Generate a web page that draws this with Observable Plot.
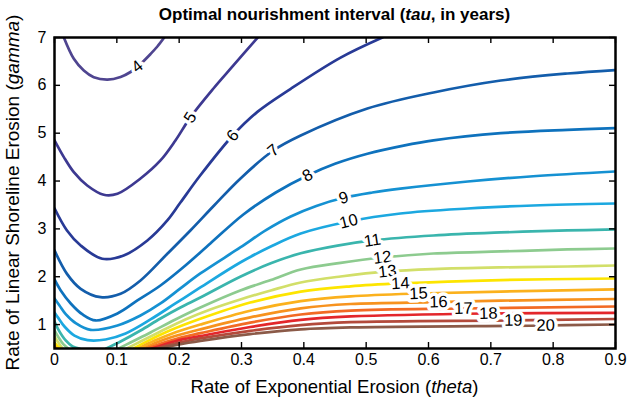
<!DOCTYPE html>
<html><head><meta charset="utf-8">
<script src="https://cdn.jsdelivr.net/npm/d3@7"></script>
<script src="https://cdn.jsdelivr.net/npm/@observablehq/plot@0.6"></script>
<style>
html,body{margin:0;padding:0;background:#fff;}
svg text{font-family:"Liberation Sans",Arial,Helvetica,sans-serif;}
</style></head>
<body>
<div id="chart"></div>
<script>
// ---- contour levels and colours ----
const levels = [4,5,6,7,8,9,10,11,12,13,14,15,16,17,18,19,20];
const levelColors = ["#4f4590","#3d3991","#283a96","#135dab","#0e72bd","#1591d2","#1ca8e0","#3ab5ad","#8dcb8f","#d2df69","#fde500","#fbb11d","#f7921e","#f26a24","#e3262b","#b34a3b","#8b5a48"];
const xTicks = [0,0.1,0.2,0.3,0.4,0.5,0.6,0.7,0.8,0.9];
const yTicks = [1,2,3,4,5,6,7];
// theta at which each contour carries its inline label
const labelTheta = [0.133,0.218,0.286,0.351,0.406,0.464,0.472,0.510,0.526,0.534,0.555,0.584,0.616,0.656,0.696,0.736,0.788];

// ---- contour lines as [theta, gamma] ----
const tau4 = [[0.015,7.0],[0.031,6.555],[0.047,6.31],[0.063,6.17],[0.085,6.12],[0.106,6.175],[0.122,6.279],[0.138,6.446],[0.154,6.655],[0.165,6.812],[0.176,7.0]];
const tau5 = [[0,4.85],[0.015,4.50],[0.031,4.185],[0.0525,3.907],[0.079,3.713],[0.101,3.734],[0.138,4.053],[0.170,4.43],[0.194,4.847],[0.218,5.33],[0.255,5.934],[0.287,6.415],[0.326,7.0]];
const tau6 = [[0,3.43],[0.020,2.967],[0.042,2.653],[0.0765,2.375],[0.111,2.444],[0.149,2.757],[0.181,3.176],[0.202,3.55],[0.234,4.12],[0.286,4.952],[0.325,5.44],[0.379,5.928],[0.459,6.58],[0.526,7.0]];
const tau7 = [[0,2.55],[0.020,2.06],[0.042,1.748],[0.074,1.573],[0.106,1.644],[0.138,1.922],[0.181,2.48],[0.218,2.967],[0.256,3.489],[0.298,4.05],[0.351,4.638],[0.395,4.952],[0.502,5.516],[0.608,5.851],[0.716,6.101],[0.823,6.248],[0.9,6.32]];
const tau8 = [[0,1.943],[0.010,1.713],[0.026,1.441],[0.045,1.211],[0.066,1.086],[0.101,1.232],[0.133,1.504],[0.170,1.817],[0.210,2.235],[0.250,2.695],[0.303,3.301],[0.355,3.761],[0.406,4.116],[0.450,4.36],[0.502,4.57],[0.560,4.74],[0.608,4.85],[0.716,5.0],[0.823,5.07],[0.9,5.105]];
const tau9 = [[0,1.545],[0.008,1.40],[0.018,1.22],[0.034,1.03],[0.058,0.89],[0.101,0.981],[0.138,1.19],[0.170,1.441],[0.202,1.755],[0.234,2.068],[0.298,2.611],[0.340,2.98],[0.379,3.26],[0.420,3.48],[0.464,3.65],[0.510,3.76],[0.555,3.84],[0.663,3.99],[0.768,4.10],[0.9,4.2]];
const tau10 = [[0,1.253],[0.006,1.14],[0.016,0.96],[0.032,0.77],[0.053,0.675],[0.082,0.689],[0.114,0.814],[0.154,1.107],[0.194,1.441],[0.234,1.776],[0.298,2.298],[0.347,2.632],[0.395,2.904],[0.472,3.155],[0.555,3.322],[0.663,3.426],[0.768,3.489],[0.9,3.531]];
const tau11a = [[0,1.065],[0.006,0.90],[0.018,0.668],[0.029,0.542],[0.040,0.5]];
const tau11b = [[0.083,0.5],[0.106,0.647],[0.138,0.877],[0.170,1.127],[0.202,1.357],[0.234,1.566],[0.298,2.0],[0.347,2.28],[0.395,2.49],[0.454,2.65],[0.510,2.758],[0.608,2.862],[0.716,2.925],[0.823,2.967],[0.9,2.988]];
const tau12a = [[0,0.877],[0.006,0.74],[0.014,0.59],[0.022,0.5]];
const tau12b = [[0.103,0.5],[0.122,0.626],[0.154,0.835],[0.194,1.107],[0.234,1.357],[0.298,1.713],[0.347,1.93],[0.395,2.15],[0.459,2.29],[0.526,2.402],[0.608,2.486],[0.716,2.528],[0.823,2.570],[0.9,2.590]];
const tau13a = [[0,0.751],[0.006,0.626],[0.013,0.5]];
const tau13b = [[0.116,0.5],[0.138,0.647],[0.170,0.856],[0.210,1.107],[0.250,1.316],[0.298,1.525],[0.347,1.713],[0.395,1.880],[0.459,2.005],[0.534,2.110],[0.608,2.16],[0.716,2.195],[0.823,2.214],[0.9,2.235]];
const tau14a = [[0,0.626],[0.005,0.55],[0.010,0.5]];
const tau14b = [[0.127,0.5],[0.150,0.66],[0.186,0.88],[0.234,1.12],[0.314,1.46],[0.395,1.69],[0.475,1.80],[0.555,1.86],[0.716,1.93],[0.9,1.963]];
const tau15a = [[0,0.563],[0.004,0.5]];
const tau15b = [[0.135,0.5],[0.160,0.66],[0.186,0.80],[0.234,1.0],[0.314,1.29],[0.395,1.49],[0.475,1.59],[0.584,1.65],[0.716,1.69],[0.9,1.734]];
const tau16a = [[0,0.52],[0.002,0.5]];
const tau16b = [[0.143,0.5],[0.165,0.63],[0.186,0.73],[0.234,0.90],[0.314,1.15],[0.395,1.34],[0.475,1.43],[0.616,1.47],[0.716,1.50],[0.9,1.535]];
const tau17 = [[0.149,0.5],[0.170,0.6],[0.200,0.72],[0.234,0.82],[0.314,1.04],[0.395,1.21],[0.475,1.29],[0.656,1.336],[0.9,1.378]];
const tau18 = [[0.156,0.5],[0.175,0.58],[0.205,0.69],[0.234,0.76],[0.314,0.95],[0.395,1.10],[0.475,1.17],[0.696,1.232],[0.9,1.243]];
const tau19 = [[0.162,0.5],[0.180,0.56],[0.210,0.65],[0.234,0.71],[0.314,0.87],[0.395,0.99],[0.475,1.05],[0.736,1.086],[0.9,1.117]];
const tau20 = [[0.168,0.5],[0.186,0.55],[0.215,0.62],[0.234,0.66],[0.314,0.80],[0.395,0.90],[0.475,0.94],[0.788,0.981],[0.9,1.002]];

// branches: [level, key, points, carries label]
const branches = [
  [4,"4",tau4,true],[5,"5",tau5,true],[6,"6",tau6,true],[7,"7",tau7,true],[8,"8",tau8,true],
  [9,"9",tau9,true],[10,"10",tau10,true],
  [11,"11a",tau11a,false],[11,"11b",tau11b,true],
  [12,"12a",tau12a,false],[12,"12b",tau12b,true],
  [13,"13a",tau13a,false],[13,"13b",tau13b,true],
  [14,"14a",tau14a,false],[14,"14b",tau14b,true],
  [15,"15a",tau15a,false],[15,"15b",tau15b,true],
  [16,"16a",tau16a,false],[16,"16b",tau16b,true],
  [17,"17",tau17,true],[18,"18",tau18,true],[19,"19",tau19,true],[20,"20",tau20,true]
];

const W = 629, H = 402, mL = 54, mR = 14, mT = 37, mB = 54;
const frameW = W - mL - mR, frameH = H - mT - mB;
const sx = d3.scaleLinear([0, 0.9], [mL, W - mR]);
const sy = d3.scaleLinear([0.5, 7], [H - mB, mT]);

const rows = [];
for (const [tau, key, pts] of branches) for (const [t, g] of pts) rows.push({tau, key, theta: t, gamma: g});

const labels = [];
for (const [tau, key, pts, lab] of branches) {
  if (!lab) continue;
  const t = labelTheta[levels.indexOf(tau)];
  for (let i = 0; i < pts.length - 1; i++) {
    const [t1, g1] = pts[i], [t2, g2] = pts[i + 1];
    if (t >= t1 && t <= t2) {
      const g = g1 + (g2 - g1) * (t - t1) / (t2 - t1);
      const ang = Math.atan2(sy(g2) - sy(g1), sx(t2) - sx(t1)) * 180 / Math.PI;
      labels.push({tau, theta: t, gamma: g, angle: ang});
      break;
    }
  }
}

const chart = Plot.plot({
  width: W, height: H,
  marginLeft: mL, marginRight: mR, marginTop: mT, marginBottom: mB,
  x: {domain: [0, 0.9]},
  y: {domain: [0.5, 7]},
  color: {type: "ordinal", domain: levels, range: levelColors},
  style: {fontFamily: "'Liberation Sans', Arial, sans-serif", fontSize: "16px", background: "white", color: "black"},
  marks: [
    Plot.line(rows, {x: "theta", y: "gamma", z: "key", stroke: "tau", strokeWidth: 2.7, curve: "catmull-rom", clip: true}),
    Plot.text(labels, {x: "theta", y: "gamma", text: d => String(d.tau), rotate: "angle", fontSize: 16.5, fill: "black", stroke: "white", strokeWidth: 7}),
    Plot.tickX(xTicks, {x: d => d, insetTop: frameH - 6, stroke: "black", strokeWidth: 1.4}),
    Plot.tickX(xTicks, {x: d => d, insetBottom: frameH - 6, stroke: "black", strokeWidth: 1.4}),
    Plot.tickY(yTicks, {y: d => d, insetRight: frameW - 6, stroke: "black", strokeWidth: 1.4}),
    Plot.tickY(yTicks, {y: d => d, insetLeft: frameW - 6, stroke: "black", strokeWidth: 1.4}),
    Plot.axisX(xTicks, {anchor: "bottom", tickSize: 0, tickPadding: 5, fontSize: 16, label: null, tickFormat: d => String(d)}),
    Plot.axisY(yTicks, {anchor: "left", tickSize: 0, tickPadding: 8, fontSize: 16, label: null, tickFormat: d => String(d)}),
    Plot.frame({stroke: "black", strokeWidth: 2.5})
  ]
});
document.getElementById("chart").appendChild(chart);

const svg = d3.select(chart);
function richText(sel, parts) {
  for (const [s, it] of parts) sel.append("tspan").attr("font-style", it ? "italic" : "normal").text(s);
  return sel;
}
richText(svg.append("text").attr("x", (mL + W - mR) / 2).attr("y", 20).attr("text-anchor", "middle")
  .attr("font-weight", "bold").attr("font-size", 17).attr("fill", "black"),
  [["Optimal nourishment interval (", false], ["tau", true], [", in years)", false]]);
richText(svg.append("text").attr("x", (mL + W - mR) / 2).attr("y", 393).attr("text-anchor", "middle")
  .attr("font-size", 18.5).attr("fill", "black"),
  [["Rate of Exponential Erosion (", false], ["theta", true], [")", false]]);
richText(svg.append("text").attr("transform", `translate(19,${(mT + H - mB) / 2}) rotate(-90)`).attr("text-anchor", "middle")
  .attr("font-size", 19).attr("fill", "black"),
  [["Rate of Linear Shoreline Erosion (", false], ["gamma", true], [")", false]]);
</script>
</body></html>
